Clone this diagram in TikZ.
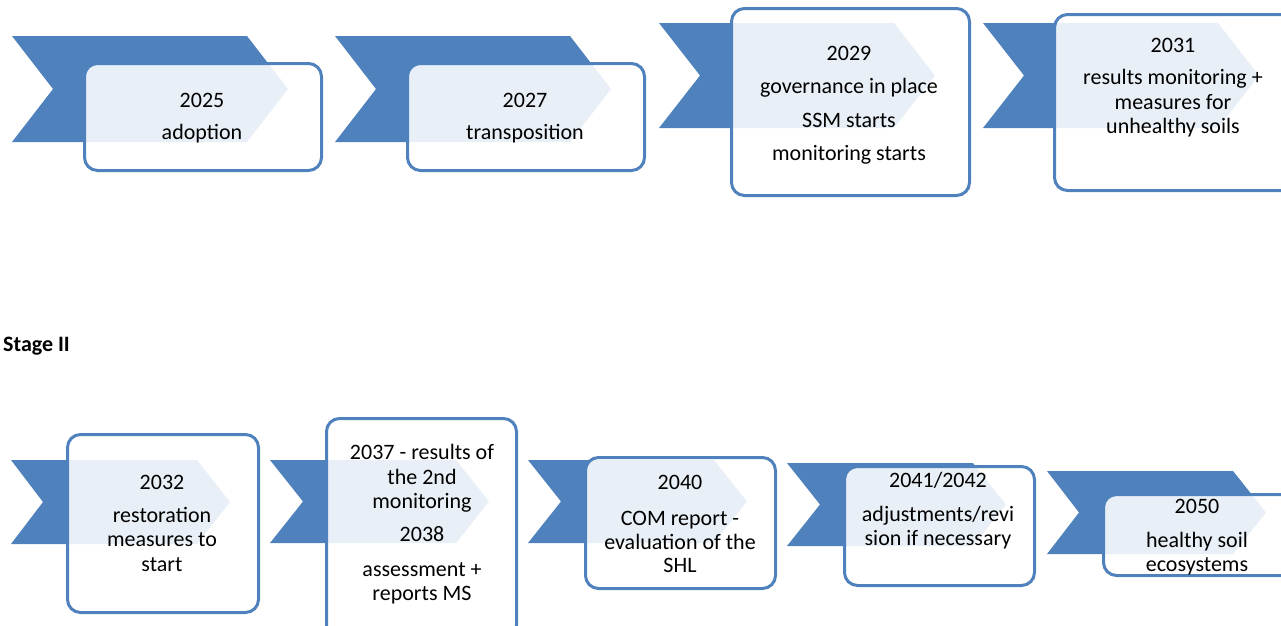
\documentclass[tikz,border=0pt]{standalone}
\usepackage{fontspec}
\setmainfont{Carlito}
\definecolor{chev}{HTML}{4F81BD}
\newcommand{\tline}[4]{\node[lbl] (#1) at (#2,#3) {#4};}
\newcommand{\boxnode}[5]{\node[tlbox, minimum width=#4pt, minimum height=#5pt] (#1) at (#2,#3) {};}
\begin{document}
\begin{tikzpicture}[x=1pt,y=-1pt,
  chevshape/.style={fill=chev, draw=none},
  tlbox/.style={draw=chev, line width=3pt, fill=white, fill opacity=0.88, draw opacity=1,
    rounded corners=13pt, inner sep=0pt, outer sep=0pt, shape=rectangle},
  lbl/.style={font=\fontsize{22}{24.5}\selectfont, anchor=base, inner sep=0pt, text=black, text opacity=1}]
\useasboundingbox (0,0) rectangle (1281,625);
\clip (0,0) rectangle (1281,625);
\fill[white] (0,0) rectangle (1281,625);

% ---------- Stage I row ----------
% element 1
\fill[chevshape] (12,36) -- (247,36) -- (288,89) -- (247,142) -- (12,142) -- (53,89) -- cycle;
\boxnode{b1}{203}{117}{237}{107}
\tline{t1a}{202}{107}{2025}
\tline{t1b}{202}{139}{adoption}
% element 2
\fill[chevshape] (335,36) -- (570,36) -- (611,89) -- (570,142) -- (335,142) -- (376,89) -- cycle;
\boxnode{b2}{526}{117}{237}{107}
\tline{t2a}{525}{107}{2027}
\tline{t2b}{525}{139}{transposition}
% element 3
\fill[chevshape] (659,23) -- (894,23) -- (935,75.5) -- (894,128) -- (659,128) -- (700,75.5) -- cycle;
\boxnode{b3}{850.5}{102}{238}{187}
\tline{t3a}{849}{60}{2029}
\tline{t3b}{849}{93}{governance in place}
\tline{t3c}{849}{127}{SSM starts}
\tline{t3d}{849}{160}{monitoring starts}
% element 4
\fill[chevshape] (983,23) -- (1218,23) -- (1259,75.5) -- (1218,128) -- (983,128) -- (1024,75.5) -- cycle;
\boxnode{b4}{1181.5}{102.5}{254}{176}
\tline{t4a}{1173}{52}{2031}
\tline{t4b}{1173}{84}{results monitoring +}
\tline{t4c}{1173}{109}{measures for}
\tline{t4d}{1173}{133}{unhealthy soils}

% ---------- Stage II label ----------
\node[font=\fontsize{22}{24}\selectfont\bfseries, anchor=base west, inner sep=0pt] (stage) at (3,351) {Stage II};

% ---------- Stage II row ----------
% element A
\fill[chevshape] (11,460) -- (197,460) -- (230,502) -- (197,544) -- (11,544) -- (43,502) -- cycle;
\boxnode{bA}{163}{523.5}{191}{178}
\tline{tAa}{162}{489}{2032}
\tline{tAb}{162}{522}{restoration}
\tline{tAc}{162}{546}{measures to}
\tline{tAd}{162}{571}{start}
% element B
\fill[chevshape] (270,460) -- (456,460) -- (489,501.5) -- (456,543) -- (270,543) -- (303,501.5) -- cycle;
\boxnode{bB}{421.5}{528.5}{190}{220}
\tline{tBa}{422}{459}{2037 - results of}
\tline{tBb}{422}{484}{the 2nd}
\tline{tBc}{422}{508}{monitoring}
\tline{tBd}{422}{541}{2038}
\tline{tBe}{422}{576}{assessment +}
\tline{tBf}{422}{600}{reports MS}
% element C
\fill[chevshape] (528,460) -- (714,460) -- (747,501.5) -- (714,543) -- (528,543) -- (561,501.5) -- cycle;
\boxnode{bC}{680.5}{523}{190}{131}
\tline{tCa}{680}{489}{2040}
\tline{tCb}{680}{525}{COM report -}
\tline{tCc}{680}{549}{evaluation of the}
\tline{tCd}{680}{572}{SHL}
% element D
\fill[chevshape] (787,463) -- (973,463) -- (1006,504.5) -- (973,546) -- (787,546) -- (820,504.5) -- cycle;
\boxnode{bD}{939.5}{526}{190}{119}
\tline{tDa}{938}{487}{2041/2042}
\tline{tDb}{938}{521}{adjustments/revi}
\tline{tDc}{938}{545}{sion if necessary}
% element E
\fill[chevshape] (1047,471) -- (1233,471) -- (1266,512.5) -- (1233,554) -- (1047,554) -- (1079,512.5) -- cycle;
\boxnode{bE}{1206}{535}{205}{81}
\tline{tEa}{1197}{513}{2050}
\tline{tEb}{1197}{547}{healthy soil}
\tline{tEc}{1197}{571}{ecosystems}
\end{tikzpicture}
\end{document}
